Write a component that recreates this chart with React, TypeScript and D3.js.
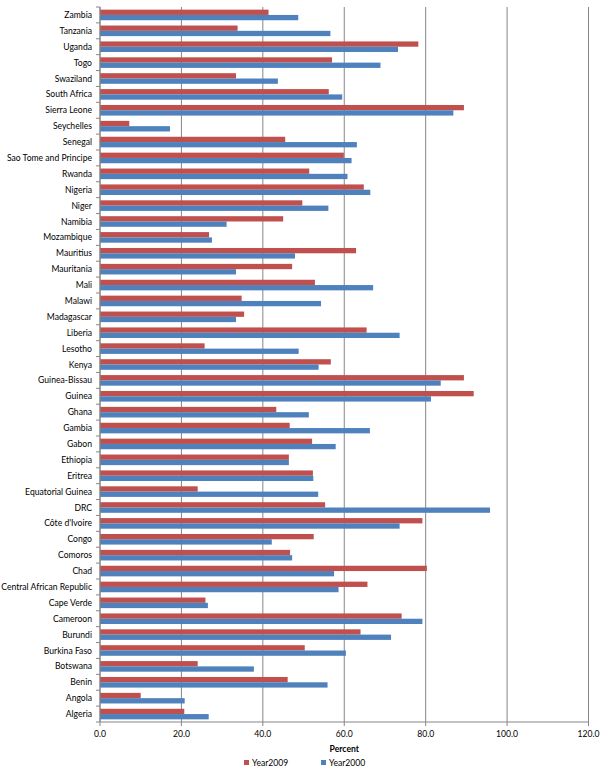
import React from "react";
import * as d3 from "d3";

// categories top to bottom, as shown
const countries = [
  "Zambia", "Tanzania", "Uganda", "Togo", "Swaziland", "South Africa", "Sierra Leone",
  "Seychelles", "Senegal", "Sao Tome and Principe", "Rwanda", "Nigeria", "Niger",
  "Namibia", "Mozambique", "Mauritius", "Mauritania", "Mali", "Malawi", "Madagascar",
  "Liberia", "Lesotho", "Kenya", "Guinea-Bissau", "Guinea", "Ghana", "Gambia", "Gabon",
  "Ethiopia", "Eritrea", "Equatorial Guinea", "DRC", "Côte d'Ivoire", "Congo", "Comoros",
  "Chad", "Central African Republic", "Cape Verde", "Cameroon", "Burundi",
  "Burkina Faso", "Botswana", "Benin", "Angola", "Algeria",
];

const year2009 = [
  41.4, 33.8, 78.2, 57.0, 33.4, 56.2, 89.4, 7.2, 45.5, 59.9, 51.4, 64.8, 49.7, 45.0,
  26.8, 62.9, 47.2, 52.8, 34.8, 35.4, 65.5, 25.7, 56.7, 89.4, 91.8, 43.3, 46.6, 52.1,
  46.4, 52.3, 24.0, 55.3, 79.2, 52.5, 46.7, 80.3, 65.7, 25.9, 74.1, 64.0, 50.3, 24.0,
  46.1, 10.0, 20.7,
];

const year2000 = [
  48.7, 56.6, 73.2, 68.9, 43.7, 59.5, 86.8, 17.2, 63.1, 61.8, 60.8, 66.4, 56.1, 31.1,
  27.5, 47.9, 33.4, 67.1, 54.3, 33.4, 73.6, 48.8, 53.7, 83.7, 81.3, 51.3, 66.3, 57.9,
  46.4, 52.4, 53.6, 95.8, 73.6, 42.2, 47.2, 57.5, 58.6, 26.5, 79.2, 71.5, 60.4, 37.8,
  55.9, 20.8, 26.7,
];

const seriesNames = ["Year2009", "Year2000"];
const seriesValues = [year2009, year2000];
const seriesColors = ["#C0504D", "#4F81BD"];
const xTicks = [0, 20, 40, 60, 80, 100, 120];

const font = "Lato, sans-serif";

export default function App() {
  const W = 600;
  const H = 770;
  const left = 100;
  const right = 588.5;
  const top = 7;
  const bottom = 722;

  const x = d3.scaleLinear().domain([0, 120]).range([left, right]);
  const y = d3.scaleBand().domain(countries).range([top, bottom]).padding(0);
  const step = y.step();
  const sub = d3
    .scaleBand()
    .domain(seriesNames)
    .range([0, step])
    .paddingInner(0)
    .paddingOuter(0.5);

  const grid = "#868686";

  return (
    <svg
      width={W}
      height={H}
      style={{ position: "absolute", left: 0, top: 0, background: "#fff" }}
      fontFamily={font}
    >
      {/* vertical gridlines */}
      {xTicks.map((t) => (
        <line key={"g" + t} x1={x(t)} x2={x(t)} y1={top} y2={bottom + 4} stroke={grid} strokeWidth={1} />
      ))}

      {/* bars */}
      {countries.map((c, i) => (
        <g key={c} transform={`translate(0,${y(c)})`}>
          {seriesNames.map((s, k) => (
            <rect
              key={s}
              x={x(0)}
              y={sub(s)}
              width={x(seriesValues[k][i]) - x(0)}
              height={sub.bandwidth()}
              fill={seriesColors[k]}
            />
          ))}
        </g>
      ))}

      {/* left axis */}
      <line x1={left} x2={left} y1={top} y2={bottom} stroke={grid} />
      {d3.range(countries.length + 1).map((i) => (
        <line key={"t" + i} x1={left - 4} x2={left} y1={top + i * step} y2={top + i * step} stroke={grid} />
      ))}
      <line x1={left} x2={right} y1={bottom} y2={bottom} stroke={grid} />

      {/* category labels */}
      {countries.map((c) => (
        <text
          key={"l" + c}
          x={left - 8}
          y={(y(c) as number) + step / 2}
          textAnchor="end"
          dominantBaseline="central"
          fontSize={8.6}
          fill="#000"
        >
          {c}
        </text>
      ))}

      {/* x tick labels */}
      {xTicks.map((t) => (
        <text key={"x" + t} x={x(t)} y={bottom + 12} textAnchor="middle" dominantBaseline="central" fontSize={8.6}>
          {d3.format(".1f")(t)}
        </text>
      ))}

      <text x={(left + right) / 2} y={bottom + 27} textAnchor="middle" dominantBaseline="central" fontSize={8.6} fontWeight="bold">
        Percent
      </text>

      {/* legend */}
      {seriesNames.map((s, k) => {
        const lx = k === 0 ? 244 : 321;
        return (
          <g key={"lg" + s} transform={`translate(${lx},${bottom + 41})`}>
            <rect x={0} y={-3} width={5} height={5} fill={seriesColors[k]} />
            <text x={8} y={0} dominantBaseline="central" fontSize={8.6}>
              {s}
            </text>
          </g>
        );
      })}
    </svg>
  );
}
